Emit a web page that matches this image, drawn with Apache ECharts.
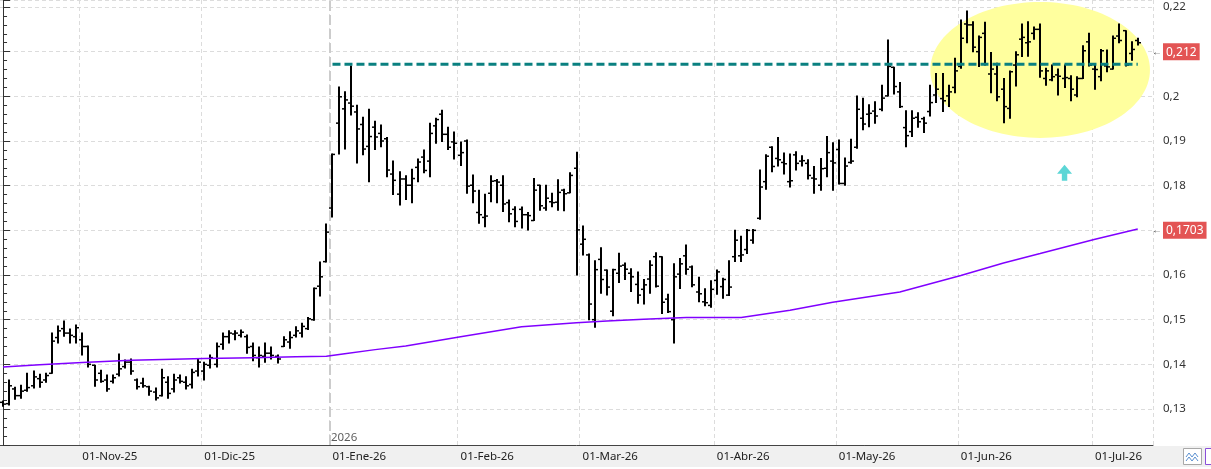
<!DOCTYPE html>
<html>
<head>
<meta charset="utf-8">
<title>Cotización diaria</title>
<script src="https://cdn.jsdelivr.net/npm/echarts@6/dist/echarts.min.js"></script>
<style>
    html, body { margin: 0; padding: 0; background: #fff; }
    #chart {
        width: 1211px;
        height: 469px;
        /* franja gris bajo el eje de fechas */
        background: linear-gradient(to bottom, #fff 0, #fff 446px, #f0f0f0 446px, #f0f0f0 467px, #fff 467px);
    }
</style>
</head>
<body>
<div id="chart"></div>
<script>
// sesiones: días laborables entre estas fechas, sin festivos
const firstDay = '2025-10-15';
const lastDay = '2026-07-14';
const holidays = ['2025-12-25', '2025-12-26', '2026-01-01', '2026-04-03', '2026-04-06', '2026-05-01'];
const monthNames = ['Ene', 'Feb', 'Mar', 'Abr', 'May', 'Jun', 'Jul', 'Ago', 'Sep', 'Oct', 'Nov', 'Dic'];

// OHLC por sesión (la primera queda cortada en el borde izquierdo)
const opens = [0.1315,
    0.1312, 0.1345, 0.1330, 0.1342, 0.1352, 0.1368, 0.1365, 0.1380, 0.1460, 0.1480,
    0.1470, 0.1462, 0.1455, 0.1440, 0.1398, 0.1380, 0.1365, 0.1362, 0.1378, 0.1395,
    0.1405, 0.1365, 0.1358, 0.1350, 0.1338, 0.1330, 0.1360, 0.1345, 0.1370, 0.1360,
    0.1355, 0.1385, 0.1385, 0.1398, 0.1400, 0.1445, 0.1462, 0.1468, 0.1465, 0.1462,
    0.1440, 0.1415, 0.1418, 0.1425, 0.1418, 0.1440, 0.1450, 0.1465, 0.1470, 0.1480,
    0.1500, 0.1575, 0.1630, 0.1750, 0.1940, 0.1972, 0.1985, 0.1965, 0.1937, 0.1888,
    0.1931, 0.1917, 0.1905, 0.1826, 0.1781, 0.1815, 0.1801, 0.1841, 0.1864, 0.1855,
    0.1934, 0.1960, 0.1915, 0.1898, 0.1868, 0.1900, 0.1801, 0.1740, 0.1729, 0.1783,
    0.1811, 0.1801, 0.1762, 0.1747, 0.1747, 0.1735, 0.1722, 0.1801, 0.1750, 0.1764,
    0.1763, 0.1790, 0.1784, 0.1839, 0.1669, 0.1645, 0.1500, 0.1635, 0.1611, 0.1519,
    0.1604, 0.1622, 0.1604, 0.1579, 0.1568, 0.1591, 0.1641, 0.1641, 0.1546, 0.1500,
    0.1602, 0.1643, 0.1618, 0.1562, 0.1540, 0.1532, 0.1588, 0.1574, 0.1555, 0.1641,
    0.1643, 0.1657, 0.1678, 0.1727, 0.1809, 0.1886, 0.1861, 0.1852, 0.1809, 0.1869,
    0.1855, 0.1850, 0.1817, 0.1801, 0.1839, 0.1855, 0.1881, 0.1805, 0.1852, 0.1886,
    0.1951, 0.1960, 0.1967, 0.1971, 0.2001, 0.2065, 0.2010, 0.1930, 0.1921, 0.1953,
    0.1950, 0.1966, 0.2003, 0.1995, 0.2001, 0.2020, 0.2067, 0.2162, 0.2160, 0.2100,
    0.2141, 0.2050, 0.2050, 0.2016, 0.1973, 0.2070, 0.2128, 0.2120, 0.2141, 0.2150,
    0.2040, 0.2037, 0.2048, 0.2040, 0.2040, 0.2003, 0.2040, 0.2122, 0.2061, 0.2044,
    0.2068, 0.2061, 0.2135, 0.2147, 0.2096, 0.2125];
const highs = [0.1318,
    0.1365, 0.1349, 0.1353, 0.1380, 0.1385, 0.1378, 0.1380, 0.1470, 0.1486, 0.1497,
    0.1479, 0.1488, 0.1470, 0.1441, 0.1398, 0.1387, 0.1376, 0.1376, 0.1423, 0.1410,
    0.1412, 0.1367, 0.1369, 0.1351, 0.1347, 0.1389, 0.1372, 0.1378, 0.1376, 0.1372,
    0.1389, 0.1412, 0.1405, 0.1421, 0.1448, 0.1470, 0.1475, 0.1475, 0.1477, 0.1466,
    0.1448, 0.1439, 0.1448, 0.1439, 0.1421, 0.1462, 0.1473, 0.1484, 0.1492, 0.1505,
    0.1571, 0.1629, 0.1714, 0.1871, 0.2021, 0.2010, 0.2068, 0.1980, 0.1953, 0.1971,
    0.1944, 0.1936, 0.1908, 0.1855, 0.1831, 0.1822, 0.1837, 0.1860, 0.1880, 0.1940,
    0.1951, 0.1969, 0.1931, 0.1920, 0.1898, 0.1902, 0.1824, 0.1790, 0.1781, 0.1822,
    0.1814, 0.1822, 0.1768, 0.1753, 0.1752, 0.1740, 0.1816, 0.1801, 0.1801, 0.1783,
    0.1813, 0.1792, 0.1829, 0.1875, 0.1710, 0.1647, 0.1632, 0.1661, 0.1611, 0.1613,
    0.1649, 0.1627, 0.1614, 0.1607, 0.1590, 0.1632, 0.1650, 0.1641, 0.1557, 0.1625,
    0.1637, 0.1667, 0.1620, 0.1595, 0.1569, 0.1587, 0.1611, 0.1593, 0.1632, 0.1700,
    0.1687, 0.1702, 0.1702, 0.1835, 0.1869, 0.1887, 0.1908, 0.1873, 0.1871, 0.1876,
    0.1867, 0.1858, 0.1843, 0.1861, 0.1910, 0.1896, 0.1902, 0.1862, 0.1904, 0.2001,
    0.1996, 0.1981, 0.1988, 0.2025, 0.2126, 0.2065, 0.2031, 0.1968, 0.1968, 0.1963,
    0.1953, 0.2025, 0.2051, 0.2051, 0.2025, 0.2085, 0.2171, 0.2191, 0.2167, 0.2135,
    0.2166, 0.2098, 0.2074, 0.2040, 0.2057, 0.2100, 0.2162, 0.2167, 0.2155, 0.2162,
    0.2063, 0.2070, 0.2061, 0.2070, 0.2046, 0.2044, 0.2113, 0.2141, 0.2069, 0.2105,
    0.2104, 0.2135, 0.2162, 0.2147, 0.2122, 0.2130];
const lows = [0.1306,
    0.1309, 0.1322, 0.1324, 0.1340, 0.1347, 0.1349, 0.1360, 0.1380, 0.1448, 0.1463,
    0.1448, 0.1448, 0.1421, 0.1394, 0.1351, 0.1360, 0.1340, 0.1358, 0.1374, 0.1392,
    0.1378, 0.1345, 0.1349, 0.1331, 0.1320, 0.1329, 0.1324, 0.1338, 0.1358, 0.1345,
    0.1347, 0.1374, 0.1365, 0.1392, 0.1394, 0.1434, 0.1448, 0.1455, 0.1461, 0.1425,
    0.1408, 0.1394, 0.1405, 0.1412, 0.1403, 0.1440, 0.1436, 0.1461, 0.1461, 0.1478,
    0.1499, 0.1553, 0.1629, 0.1730, 0.1871, 0.1882, 0.1958, 0.1851, 0.1869, 0.1809,
    0.1881, 0.1887, 0.1820, 0.1780, 0.1757, 0.1769, 0.1762, 0.1809, 0.1829, 0.1820,
    0.1895, 0.1899, 0.1881, 0.1860, 0.1845, 0.1783, 0.1762, 0.1716, 0.1708, 0.1764,
    0.1762, 0.1742, 0.1719, 0.1708, 0.1705, 0.1701, 0.1722, 0.1745, 0.1745, 0.1753,
    0.1745, 0.1744, 0.1784, 0.1600, 0.1645, 0.1500, 0.1483, 0.1559, 0.1555, 0.1509,
    0.1583, 0.1590, 0.1563, 0.1537, 0.1535, 0.1559, 0.1573, 0.1514, 0.1516, 0.1448,
    0.1570, 0.1602, 0.1574, 0.1540, 0.1531, 0.1528, 0.1557, 0.1548, 0.1554, 0.1630,
    0.1630, 0.1648, 0.1671, 0.1725, 0.1792, 0.1831, 0.1844, 0.1826, 0.1797, 0.1835,
    0.1844, 0.1815, 0.1783, 0.1790, 0.1820, 0.1790, 0.1804, 0.1801, 0.1850, 0.1884,
    0.1925, 0.1932, 0.1940, 0.1968, 0.2001, 0.2005, 0.1975, 0.1887, 0.1910, 0.1931,
    0.1919, 0.1956, 0.1986, 0.1966, 0.1977, 0.2008, 0.2063, 0.2120, 0.2100, 0.2067,
    0.2070, 0.2008, 0.1990, 0.1941, 0.1951, 0.2023, 0.2089, 0.2090, 0.2128, 0.2043,
    0.2025, 0.2035, 0.2003, 0.2020, 0.1990, 0.1999, 0.2040, 0.2068, 0.2016, 0.2035,
    0.2055, 0.2061, 0.2120, 0.2068, 0.2081, 0.2115];
const closes = [0.1311,
    0.1352, 0.1330, 0.1340, 0.1348, 0.1372, 0.1360, 0.1375, 0.1452, 0.1475, 0.1470,
    0.1465, 0.1482, 0.1440, 0.1400, 0.1365, 0.1362, 0.1345, 0.1370, 0.1390, 0.1405,
    0.1385, 0.1350, 0.1352, 0.1340, 0.1325, 0.1370, 0.1335, 0.1365, 0.1362, 0.1352,
    0.1382, 0.1405, 0.1400, 0.1415, 0.1440, 0.1462, 0.1470, 0.1470, 0.1472, 0.1438,
    0.1420, 0.1420, 0.1425, 0.1420, 0.1412, 0.1455, 0.1460, 0.1475, 0.1485, 0.1502,
    0.1570, 0.1596, 0.1696, 0.1870, 0.1999, 0.1992, 0.1978, 0.1927, 0.1882, 0.1910,
    0.1909, 0.1900, 0.1835, 0.1812, 0.1815, 0.1801, 0.1816, 0.1853, 0.1834, 0.1917,
    0.1948, 0.1915, 0.1886, 0.1895, 0.1874, 0.1799, 0.1788, 0.1735, 0.1732, 0.1810,
    0.1808, 0.1759, 0.1737, 0.1720, 0.1735, 0.1733, 0.1790, 0.1755, 0.1772, 0.1762,
    0.1785, 0.1782, 0.1823, 0.1701, 0.1680, 0.1535, 0.1612, 0.1590, 0.1573, 0.1612,
    0.1620, 0.1613, 0.1596, 0.1555, 0.1578, 0.1622, 0.1575, 0.1539, 0.1518, 0.1596,
    0.1625, 0.1613, 0.1578, 0.1558, 0.1538, 0.1568, 0.1607, 0.1590, 0.1573, 0.1678,
    0.1645, 0.1700, 0.1700, 0.1797, 0.1866, 0.1843, 0.1858, 0.1849, 0.1811, 0.1850,
    0.1856, 0.1823, 0.1815, 0.1838, 0.1874, 0.1851, 0.1805, 0.1844, 0.1855, 0.1971,
    0.1938, 0.1962, 0.1956, 0.1996, 0.2067, 0.2022, 0.1977, 0.1912, 0.1951, 0.1943,
    0.1940, 0.1986, 0.2016, 0.1990, 0.2010, 0.2057, 0.2130, 0.2160, 0.2110, 0.2132,
    0.2072, 0.2061, 0.1999, 0.1977, 0.2055, 0.2093, 0.2132, 0.2122, 0.2150, 0.2057,
    0.2057, 0.2044, 0.2045, 0.2042, 0.2016, 0.2040, 0.2102, 0.2070, 0.2060, 0.2102,
    0.2066, 0.2130, 0.2125, 0.2070, 0.2105, 0.2120];

const maIndex = [0, 6, 13, 21, 33, 41, 48, 53, 56, 61, 66, 75, 85, 94, 99, 105, 112, 121, 129, 136, 147, 157, 164, 170, 179, 186];
const maValue = [0.1394, 0.1399, 0.1404, 0.1409, 0.1413, 0.1415, 0.1417, 0.1418, 0.1424, 0.1433, 0.1441, 0.1462, 0.1484,
    0.1493, 0.1497, 0.1501, 0.1505, 0.1505, 0.1521, 0.1539, 0.1562, 0.1599, 0.1627, 0.1648, 0.1680, 0.1703];

// resistencia discontinua
const resistLevel = 0.2072;
const resistFrom = 54;
const resistTo = 186;

// zona resaltada y flecha
const zoneCenter = [170, 0.2059];
const zoneHalfBars = 18;
const zoneHalfPrice = 0.0152;
const arrowPoint = [174, 0.1829];

// etiquetas de precio en el eje
const lastPrice = 0.212;
const lastMa = 0.1703;
const yearMark = { index: 54, text: '2026' };

const yMin = 0.121948;
const yMax = 0.221567;

function tradingDays(from, to, skip) {
    const out = [];
    const d = new Date(from + 'T00:00:00Z');
    const end = new Date(to + 'T00:00:00Z');
    while (d <= end) {
        const wd = d.getUTCDay();
        const s = d.toISOString().slice(0, 10);
        if (wd !== 0 && wd !== 6 && skip.indexOf(s) < 0) out.push(s);
        d.setUTCDate(d.getUTCDate() + 1);
    }
    return out;
}

const categories = tradingDays(firstDay, lastDay, holidays);

function isMonthStart(i) {
    return i > 0 && categories[i].slice(0, 7) !== categories[i - 1].slice(0, 7);
}

function comma(v) {
    return String(+(+v).toFixed(4)).replace('.', ',');
}

const barData = opens.map(function (o, i) {
    return [i, o, highs[i], lows[i], closes[i]];
});

function renderBar(params, api) {
    const i = api.value(0);
    const x = Math.round(api.coord([i, yMin])[0]);
    const yO = api.coord([i, api.value(1)])[1];
    const yH = api.coord([i, api.value(2)])[1];
    const yL = api.coord([i, api.value(3)])[1];
    const yC = api.coord([i, api.value(4)])[1];
    return {
        type: 'group',
        children: [
            { type: 'line', shape: { x1: x, y1: yH - 0.5, x2: x, y2: yL + 0.5 }, style: { stroke: '#000', lineWidth: 2 } },
            { type: 'line', shape: { x1: x - 3, y1: yO, x2: x, y2: yO }, style: { stroke: '#000', lineWidth: 1.5 } },
            { type: 'line', shape: { x1: x, y1: yC, x2: x + 3, y2: yC }, style: { stroke: '#000', lineWidth: 1.5 } }
        ]
    };
}

function renderZone(params, api) {
    const c = api.coord([api.value(0), api.value(1)]);
    const l = api.coord([api.value(0) - zoneHalfBars, api.value(1)]);
    const t = api.coord([api.value(0), api.value(1) + zoneHalfPrice]);
    return {
        type: 'ellipse',
        shape: { cx: c[0], cy: c[1], rx: c[0] - l[0], ry: c[1] - t[1] },
        style: { fill: '#ffff9e' }
    };
}

const chart = echarts.init(document.getElementById('chart'));

const priceLabel = {
    show: true,
    position: 'end',
    distance: -1,
    formatter: function (p) { return '{a|←}{b|' + p.name + '}'; },
    rich: {
        a: { color: '#444', fontSize: 10, padding: [0, 1, 0, 0] },
        b: { color: '#fff', backgroundColor: '#e35454', fontSize: 12, padding: [3, 3, 2, 3] }
    }
};

chart.setOption({
    animation: false,
    textStyle: { fontFamily: "'Noto Sans', sans-serif" },
    grid: { left: -3.5, right: 58, top: 0, bottom: 24 },
    xAxis: [{
        type: 'category',
        data: categories,
        boundaryGap: true,
        axisLine: { lineStyle: { color: '#444' } },
        axisTick: { interval: isMonthStart, length: 9, lineStyle: { color: '#444' } },
        axisLabel: {
            interval: isMonthStart,
            align: 'left',
            margin: 6,
            fontSize: 11.5,
            color: '#222',
            formatter: function (v) {
                return '01-' + monthNames[+v.slice(5, 7) - 1] + '-' + v.slice(2, 4);
            }
        },
        splitLine: { show: true, interval: isMonthStart, lineStyle: { color: '#dcdcdc', type: [4, 3] } }
    }, {
        type: 'value',
        show: false,
        min: -0.5,
        max: categories.length - 0.5,
        splitLine: { show: false }
    }],
    yAxis: {
        type: 'value',
        position: 'right',
        min: yMin,
        max: yMax,
        splitNumber: 10,
        axisLine: { show: true, lineStyle: { color: '#333' } },
        axisTick: { show: true, length: 7, lineStyle: { color: '#333' } },
        minorTick: { show: true, splitNumber: 5, length: 4, lineStyle: { color: '#333' } },
        axisLabel: {
            margin: 10,
            fontSize: 11.5,
            color: '#333',
            showMinLabel: false,
            showMaxLabel: false,
            formatter: comma
        },
        splitLine: { show: true, lineStyle: { color: '#dcdcdc', type: [4, 3] } }
    },
    graphic: [
        { type: 'rect', shape: { x: 1183.5, y: 448.5, width: 18, height: 16 }, style: { fill: '#fff', stroke: '#a8a8a8' } },
        { type: 'polyline', shape: { points: [[1186, 457], [1189, 453], [1192, 457], [1195, 453], [1198, 457]] }, style: { stroke: '#5a8fd0', fill: null, lineWidth: 1 } },
        { type: 'polyline', shape: { points: [[1186, 461], [1189, 457], [1192, 461], [1195, 457], [1198, 461]] }, style: { stroke: '#5a8fd0', fill: null, lineWidth: 1 } },
        { type: 'rect', shape: { x: 1205.5, y: 448.5, width: 10, height: 16 }, style: { fill: '#fff', stroke: '#8a4fd8' } }
    ],
    series: [{
        name: 'zona',
        type: 'custom',
        renderItem: renderZone,
        data: [zoneCenter],
        encode: { x: 0, y: 1 },
        silent: true,
        z: 1
    }, {
        name: 'año',
        type: 'scatter',
        xAxisIndex: 1,
        data: [[yearMark.index - 0.5, yMin]],
        symbolSize: 1,
        itemStyle: { color: 'rgba(0,0,0,0)' },
        label: {
            show: true,
            position: [2, -13],
            align: 'left',
            verticalAlign: 'top',
            formatter: yearMark.text,
            fontSize: 11.5,
            color: '#333'
        },
        markLine: {
            silent: true,
            symbol: 'none',
            label: { show: false },
            lineStyle: { color: '#cccccc', width: 2, type: [10, 4] },
            data: [{ xAxis: yearMark.index - 0.5 }]
        },
        z: 1
    }, {
        name: 'media',
        type: 'line',
        data: maIndex.map(function (x, j) { return [x, maValue[j]]; }),
        showSymbol: false,
        clip: false,
        lineStyle: { color: '#8000ff', width: 1.5 },
        markLine: {
            silent: true,
            symbol: 'none',
            lineStyle: { color: 'rgba(0,0,0,0)', width: 0 },
            label: priceLabel,
            data: [
                { yAxis: lastMa, name: comma(lastMa) },
                { yAxis: lastPrice, name: comma(lastPrice) }
            ]
        },
        z: 6
    }, {
        name: 'precio',
        type: 'custom',
        renderItem: renderBar,
        data: barData,
        encode: { x: 0, y: [1, 2, 3, 4] },
        z: 4
    }, {
        name: 'resistencia',
        type: 'line',
        data: [[resistFrom, resistLevel], [resistTo, resistLevel]],
        showSymbol: false,
        lineStyle: { color: '#0a8080', width: 3, type: [8, 4] },
        z: 5
    }, {
        name: 'flecha',
        type: 'scatter',
        data: [arrowPoint],
        symbol: 'path://M7.5,0 L15,9 L10.2,9 L10.2,16 L4.8,16 L4.8,9 L0,9 Z',
        symbolSize: [15, 16],
        itemStyle: { color: '#33cccc' },
        z: 5
    }]
});
</script>
</body>
</html>
